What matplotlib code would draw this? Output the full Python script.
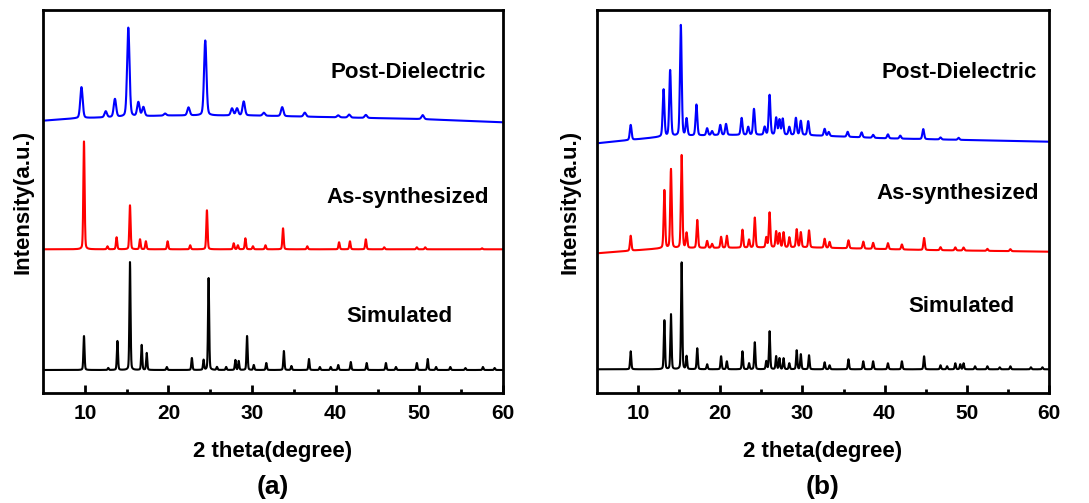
import numpy as np
import matplotlib; matplotlib.use("Agg"); import matplotlib.pyplot as plt

plt.rcParams['font.family'] = ['Liberation Sans', 'DejaVu Sans']
plt.rcParams['font.weight'] = 'bold'

# ---- panel (a): peak positions (2theta) and heights (a.u.) ----
A_SIM_POS = [9.9, 12.8, 13.9, 15.4, 16.8, 17.4, 19.8, 22.8, 24.2, 24.8, 25.8, 26.9, 28.0, 28.4,
             29.4, 30.2, 31.7, 33.8, 34.7, 36.8, 38.1, 39.4, 40.3, 41.8, 43.7, 46.0, 47.2, 49.7,
             51.0, 52.0, 53.7, 55.5, 57.6, 59.0]
A_SIM_H = [34, 2, 29, 108, 25, 17, 3, 12, 10, 92, 3, 3, 10, 9,
           34, 5, 7, 19, 4, 11, 3, 3, 5, 8, 7, 7, 3, 7,
           11, 3, 3, 2, 3, 2]
A_AS_POS = [9.9, 12.7, 13.8, 15.4, 16.6, 17.3, 19.9, 22.6, 24.6, 27.8, 28.3, 29.2, 30.1, 31.6,
            33.7, 36.6, 40.4, 41.7, 43.6, 45.8, 49.7, 50.7, 57.5]
A_AS_H = [108, 3, 12, 44, 10, 8, 8, 4, 39, 6, 4, 11, 3, 4,
          21, 3, 7, 8, 10, 2, 2, 2, 1]
A_POST_POS = [9.6, 12.5, 13.6, 15.2, 16.4, 17.0, 19.6, 22.4, 24.4, 27.6, 28.2, 29.0, 31.4,
              33.6, 36.3, 40.3, 41.6, 43.6, 50.4]
A_POST_H = [31, 6, 18, 89, 14, 9, 2, 8, 75, 7, 7, 14, 3,
            9, 4, 2, 3, 3, 4]
# baselines (2theta, level)
A_SIM_BASE = ([5, 60], [23, 23])
A_AS_BASE = ([5, 60], [143.7, 143.7])
A_POST_BASE = ([5, 9, 20, 30, 40, 50, 60], [272.3, 274.7, 277.5, 277.5, 275.7, 274.0, 270.7])

# ---- panel (b) ----
B_SIM_POS = [9.1, 13.2, 14.0, 15.3, 15.9, 17.2, 18.4, 20.1, 20.8, 22.7, 23.5, 24.2, 25.6, 26.0,
             26.8, 27.2, 27.7, 28.4, 29.3, 29.8, 30.8, 32.7, 33.3, 35.6, 37.4, 38.6, 40.4, 42.1,
             44.8, 46.8, 47.6, 48.6, 49.2, 49.6, 51.0, 52.5, 54.0, 55.3, 57.8, 59.2]
B_SIM_H = [18, 49, 55, 107, 13, 21, 5, 13, 8, 18, 6, 27, 8, 38,
           13, 11, 11, 6, 19, 15, 14, 7, 4, 10, 8, 8, 6, 8,
           13, 4, 3, 6, 5, 6, 3, 3, 2, 3, 2, 2]
B_AS_POS = [9.1, 13.2, 14.0, 15.3, 15.9, 17.2, 18.4, 19.0, 20.1, 20.8, 22.7, 23.5, 24.2, 25.6,
            26.0, 26.8, 27.2, 27.7, 28.4, 29.3, 29.8, 30.8, 32.7, 33.3, 35.6, 37.4, 38.6, 40.4,
            42.1, 44.8, 46.8, 48.6, 49.6, 52.5, 55.3]
B_AS_H = [15, 58, 79, 93, 15, 28, 7, 4, 11, 12, 18, 8, 30, 10,
          35, 16, 14, 15, 10, 18, 15, 17, 9, 6, 8, 7, 6, 6,
          5, 12, 3, 3, 3, 2, 2]
B_POST_POS = [9.1, 13.1, 13.9, 15.2, 15.9, 17.1, 18.4, 19.0, 20.0, 20.7, 22.6, 23.4, 24.1, 25.4,
              26.0, 26.8, 27.2, 27.6, 28.4, 29.2, 29.8, 30.7, 32.7, 33.2, 35.5, 37.2, 38.6, 40.4,
              41.9, 44.7, 46.8, 49.0]
B_POST_H = [15, 47, 66, 111, 17, 31, 7, 4, 10, 11, 17, 8, 26, 8,
            40, 17, 15, 16, 8, 17, 14, 14, 7, 4, 5, 5, 3, 4,
            3, 10, 2, 2]
B_SIM_BASE = ([5, 60], [23.7, 23.7])
B_AS_BASE = ([5, 13, 30, 45, 60], [139.7, 144.7, 145.7, 143.0, 141.3])
B_POST_BASE = ([5, 13, 20, 30, 40, 50, 60], [249.7, 256.3, 258.0, 258.0, 254.7, 253.0, 251.3])

LABELS = ["Simulated", "As-synthesized", "Post-Dielectric"]
COLORS = ["black", "red", "blue"]


def pattern(x, pos, h, fwhm, base):
    # pseudo-Voigt peaks on a piecewise baseline
    y = np.interp(x, base[0], base[1])
    s = fwhm / 2.3548
    for c, a in zip(pos, h):
        g = np.exp(-0.5 * ((x - c) / s) ** 2)
        l = 1.0 / (1.0 + ((x - c) / (fwhm / 2)) ** 2)
        y = y + a * (0.75 * g + 0.25 * l)
    return y


x = np.linspace(5, 60, 6000)
fig = plt.figure(figsize=(10.89, 5.03), dpi=100)
ax_a = fig.add_axes([43 / 1089, 110 / 503, 460 / 1089, 383 / 503])
ax_b = fig.add_axes([597 / 1089, 110 / 503, 452 / 1089, 383 / 503])

panels = [
    (ax_a, [(A_SIM_POS, A_SIM_H, 0.16, A_SIM_BASE), (A_AS_POS, A_AS_H, 0.18, A_AS_BASE),
            (A_POST_POS, A_POST_H, 0.34, A_POST_BASE)],
     [(47.6, 76), (48.6, 195), (48.7, 321)], "(a)", 13, 7),
    (ax_b, [(B_SIM_POS, B_SIM_H, 0.17, B_SIM_BASE), (B_AS_POS, B_AS_H, 0.21, B_AS_BASE),
            (B_POST_POS, B_POST_H, 0.25, B_POST_BASE)],
     [(49.3, 86), (48.9, 200), (49.1, 320)], "(b)", 13, 12),
]

for ax, series, txt, tag, lp, ylp in panels:
    for (pos, h, w, base), col, lab, (tx, ty) in zip(series, COLORS, LABELS, txt):
        ax.plot(x, pattern(x, pos, h, w, base), color=col, lw=1.5)
        ax.text(tx, ty, lab, ha="center", va="center", fontsize=16, fontweight="bold")
    ax.set_xlim(5, 60); ax.set_ylim(0, 383)
    ax.set_xticks([10, 20, 30, 40, 50, 60])
    ax.set_xticks([15, 25, 35, 45, 55], minor=True)
    ax.set_yticks([])
    ax.tick_params(axis="x", which="major", direction="in", length=6, width=2, labelsize=15, pad=8)
    ax.tick_params(axis="x", which="minor", direction="in", length=3, width=2)
    for sp in ax.spines.values():
        sp.set_linewidth(2)
    ax.set_xlabel("2 theta(degree)", fontsize=16, fontweight="bold", labelpad=lp)
    ax.set_ylabel("Intensity(a.u.)", fontsize=16, fontweight="bold", labelpad=ylp)
    cx = (ax.get_position().x0 + ax.get_position().x1) / 2
    fig.text(cx, 16 / 503, tag, ha="center", va="center", fontsize=19, fontweight="bold")

fig.savefig("out.png", dpi=100)
